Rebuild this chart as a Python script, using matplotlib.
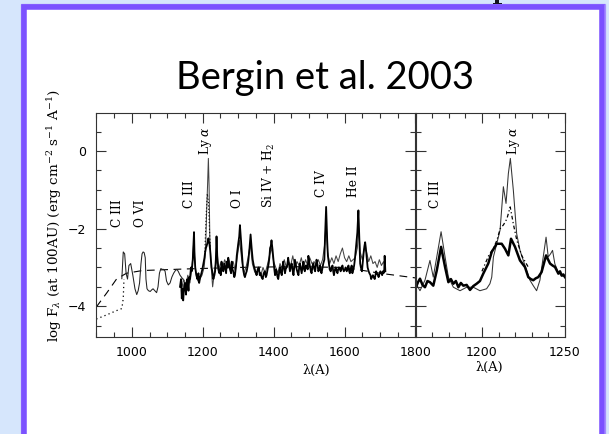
import matplotlib
matplotlib.use("Agg")
import matplotlib.pyplot as plt
from matplotlib.patches import Rectangle, Polygon
from matplotlib.ticker import MultipleLocator

plt.rcParams['mathtext.fontset'] = 'dejavuserif'

# ---------------- data ----------------
# model continuum (dashed)
model_lam = [900, 930, 957, 985, 1030, 1150, 1300, 1450, 1600, 1700, 1800]
model_flux = [-4.02, -3.65, -3.30, -3.15, -3.08, -3.04, -3.00, -2.98, -3.00, -3.15, -3.27]

# extrapolated FUV (dotted)
extrap_lam = [900, 930, 955, 972, 976, 978]
extrap_flux = [-4.33, -4.22, -4.12, -4.06, -3.80, -3.30]

# FUSE spectrum (thin)
fuse_lam = [972, 976, 980, 984, 988, 992, 997, 1003, 1009, 1014, 1018, 1022, 1026, 1029,
            1032, 1035, 1038, 1040, 1043, 1047, 1052, 1056, 1060, 1065, 1070, 1074, 1078,
            1082, 1086, 1090, 1094, 1098, 1103, 1108, 1113, 1118, 1123, 1127, 1131, 1136,
            1140, 1144, 1148]
fuse_flux = [-3.29, -2.60, -2.65, -3.15, -3.30, -2.95, -2.90, -3.20, -3.55, -3.70, -3.60,
             -3.40, -2.90, -2.65, -2.60, -2.62, -2.75, -3.30, -3.55, -3.60, -3.62, -3.58,
             -3.55, -3.60, -3.65, -3.50, -3.15, -3.03, -3.05, -3.05, -3.10, -3.35, -3.45,
             -3.40, -3.25, -3.15, -3.08, -3.05, -3.10, -3.20, -3.25, -3.30, -3.35]

# HST spectrum, star 1 (thick black): (wavelength, log flux)
hst1_points = [
    (1136, -3.50), (1139, -3.30), (1141, -3.80), (1143, -3.55), (1145, -3.85), (1148, -3.45),
    (1150, -3.40), (1153, -3.70), (1155, -3.35), (1157, -3.30), (1160, -3.60), (1162, -3.25),
    (1164, -3.30), (1167, -3.00), (1169, -3.10), (1172, -2.80), (1174, -2.40), (1175.5, -2.09),
    (1177, -2.70), (1179, -3.00), (1182, -3.20), (1185, -3.30), (1188, -3.15), (1190, -3.40),
    (1193, -3.25), (1195, -3.20), (1199, -3.05), (1202, -2.90), (1205, -2.75), (1207, -2.60),
    (1209, -2.50), (1211, -2.45), (1214, -2.35), (1216, -2.25), (1219, -2.40), (1221, -2.55),
    (1223, -2.80), (1225, -3.00), (1228, -3.15), (1230, -3.30), (1233, -3.20), (1235, -3.10),
    (1237, -2.80), (1239, -2.20), (1241, -2.70), (1244, -3.00), (1247, -3.15), (1249, -3.05),
    (1251, -3.20), (1253, -2.85), (1256, -3.05), (1258, -3.10), (1261, -2.90), (1263, -3.00),
    (1266, -3.15), (1268, -2.85), (1270, -3.00), (1272, -2.75), (1275, -2.95), (1277, -3.05),
    (1280, -3.15), (1282, -2.85), (1284, -3.05), (1286, -3.10), (1289, -3.25), (1291, -3.20),
    (1294, -2.95), (1296, -2.70), (1298, -2.55), (1300, -2.40), (1303, -2.20), (1305, -1.91),
    (1308, -2.30), (1310, -2.60), (1313, -2.95), (1315, -3.10), (1317, -3.20), (1319, -3.25),
    (1322, -3.15), (1324, -3.10), (1327, -2.95), (1329, -2.80), (1332, -2.50), (1335, -2.15),
    (1338, -2.50), (1341, -2.80), (1344, -2.95), (1347, -3.05), (1350, -3.15), (1352, -3.20),
    (1355, -3.05), (1358, -3.00), (1361, -3.20), (1363, -3.15), (1366, -3.25), (1369, -3.30),
    (1372, -3.15), (1375, -3.10), (1378, -3.25), (1380, -3.20), (1383, -3.05), (1386, -2.90),
    (1388, -2.75), (1390, -2.50), (1392, -2.45), (1394, -2.30), (1397, -2.55), (1399, -2.75),
    (1402, -3.05), (1404, -3.20), (1407, -3.05), (1409, -3.15), (1411, -3.25), (1413, -3.30),
    (1416, -3.10), (1418, -3.00), (1421, -3.15), (1423, -3.20), (1425, -3.00), (1427, -2.85),
    (1430, -3.05), (1432, -3.15), (1435, -3.00), (1437, -3.00), (1439, -2.90), (1441, -2.75),
    (1444, -2.95), (1446, -3.10), (1449, -2.95), (1451, -2.90), (1454, -3.10), (1456, -3.20),
    (1458, -3.00), (1460, -2.80), (1463, -2.95), (1465, -3.05), (1468, -3.15), (1470, -3.20),
    (1472, -3.00), (1474, -2.90), (1477, -3.05), (1479, -3.15), (1482, -2.95), (1484, -2.85),
    (1486, -3.05), (1488, -3.10), (1491, -2.95), (1493, -2.95), (1496, -3.05), (1498, -2.70),
    (1501, -2.90), (1503, -3.00), (1505, -3.10), (1507, -3.15), (1510, -2.95), (1512, -2.90),
    (1515, -3.05), (1517, -3.10), (1519, -2.95), (1521, -2.80), (1524, -2.95), (1526, -3.10),
    (1529, -3.05), (1531, -2.95), (1533, -3.10), (1535, -3.15), (1538, -3.00), (1540, -2.90),
    (1543, -2.80), (1545, -2.20), (1548, -1.44), (1551, -2.30), (1553, -2.70), (1556, -2.90),
    (1558, -3.05), (1561, -3.10), (1563, -3.00), (1566, -2.95), (1568, -3.10), (1570, -3.20),
    (1573, -3.05), (1575, -3.00), (1578, -3.10), (1580, -3.15), (1582, -3.05), (1584, -3.00),
    (1587, -3.05), (1589, -3.10), (1592, -3.00), (1594, -2.95), (1596, -3.05), (1598, -3.10),
    (1601, -3.05), (1603, -3.00), (1606, -3.10), (1608, -3.05), (1611, -2.95), (1613, -3.10),
    (1615, -3.15), (1617, -3.05), (1620, -2.95), (1622, -3.15), (1625, -3.05), (1627, -2.95),
    (1629, -2.80), (1631, -2.60), (1634, -2.30), (1636, -2.10), (1639, -1.53), (1642, -2.40),
    (1644, -2.90), (1646, -3.00), (1649, -3.10), (1651, -2.90), (1654, -2.60), (1656, -2.45),
    (1658, -2.35), (1660, -2.50), (1663, -2.80), (1665, -3.00), (1668, -3.10), (1670, -3.15),
    (1673, -3.20), (1675, -3.30), (1677, -3.25), (1680, -3.20), (1682, -3.25), (1685, -3.30),
    (1687, -3.20), (1689, -3.10), (1691, -3.15), (1694, -3.20), (1696, -3.25), (1699, -3.15),
    (1701, -3.10), (1704, -3.15), (1706, -3.20), (1708, -3.10), (1710, -3.15), (1712, -3.05),
    (1713, -2.70), (1715, -3.10),
]

# HST spectrum, star 2 (thin grey)
hst2_lam = [1140, 1146, 1152, 1158, 1164, 1170, 1175, 1180, 1186, 1192, 1198, 1204, 1208,
            1211, 1214, 1216, 1218, 1220, 1224, 1228, 1232, 1238, 1244, 1250, 1256, 1262,
            1268, 1274, 1280, 1286, 1292, 1298, 1304, 1310, 1316, 1322, 1328, 1334, 1340,
            1346, 1352, 1358, 1364, 1370, 1376, 1382, 1388, 1394, 1400, 1406, 1412, 1418,
            1424, 1430, 1436, 1442, 1448, 1454, 1460, 1466, 1472, 1478, 1484, 1490, 1496,
            1502, 1508, 1514, 1520, 1526, 1532, 1538, 1544, 1548, 1552, 1558, 1564, 1570,
            1576, 1582, 1588, 1594, 1600, 1606, 1612, 1618, 1624, 1630, 1636, 1640, 1644,
            1650, 1656, 1662, 1668, 1674, 1680, 1686, 1692, 1698, 1704, 1710, 1715]
hst2_flux = [-3.60, -3.30, -3.50, -3.20, -3.40, -3.00, -2.30, -3.10, -3.35, -3.30, -3.20,
             -3.00, -2.60, -1.60, -0.80, -0.19, -0.90, -2.20, -3.00, -3.50, -3.20, -2.80,
             -3.10, -2.90, -3.00, -2.80, -2.95, -2.80, -3.00, -2.85, -3.10, -2.70, -2.30,
             -2.80, -3.15, -3.00, -2.75, -2.40, -2.90, -3.10, -3.20, -3.05, -3.20, -3.00,
             -3.15, -2.95, -2.70, -2.50, -2.85, -3.00, -3.15, -2.90, -3.05, -2.80, -3.00,
             -2.85, -2.95, -2.70, -3.00, -2.85, -2.95, -2.75, -3.00, -2.80, -2.95, -2.75,
             -2.90, -2.85, -2.95, -2.80, -2.95, -2.80, -2.40, -1.80, -2.60, -2.90, -2.75,
             -2.90, -2.70, -2.85, -2.65, -2.50, -2.75, -2.85, -2.70, -2.85, -2.80, -2.75,
             -2.50, -2.00, -2.60, -2.80, -2.50, -2.60, -2.85, -2.70, -2.90, -2.85, -3.00,
             -2.80, -2.95, -2.85, -3.00]

# third star near Ly alpha (dotted)
hst3_lam = [1206, 1210, 1213, 1216, 1219, 1222]
hst3_flux = [-2.60, -1.60, -1.10, -1.30, -2.00, -2.60]

# right panel (zoom on 1160-1250 A)
zoom_thin_lam = [1160.3, 1162.7, 1165.7, 1168.7, 1170.7, 1172.8, 1175.4, 1177.8, 1179.8,
                 1182.8, 1186.8, 1190.8, 1194.8, 1198.8, 1202.8, 1204.8, 1205.9, 1206.9,
                 1208.9, 1210.9, 1212.9, 1214.5, 1215.9, 1217.1, 1218.9, 1220.9, 1222.9,
                 1224.9, 1226.9, 1228.9, 1230.9, 1232.9, 1234.9, 1236.9, 1238.6, 1239.9,
                 1241.3, 1242.5, 1243.9, 1245.9, 1247.9, 1250.0]
zoom_thin_flux = [-3.42, -3.60, -3.33, -2.82, -3.25, -2.73, -2.08, -2.73, -3.25, -3.51,
                  -3.60, -3.51, -3.51, -3.60, -3.55, -3.42, -3.25, -2.73, -2.39, -2.04,
                  -0.92, -1.35, -0.58, -0.19, -1.01, -2.13, -2.56, -2.82, -3.08, -3.33,
                  -3.47, -3.60, -3.33, -2.73, -2.22, -2.73, -2.65, -2.56, -2.91, -3.12,
                  -3.21, -3.25]

zoom_dot_lam = [1200, 1204, 1207, 1209, 1211, 1213, 1215, 1217, 1219, 1221, 1224, 1228]
zoom_dot_flux = [-3.10, -2.70, -2.50, -2.30, -2.00, -1.90, -1.75, -1.44, -1.90, -2.30,
                 -2.70, -3.00]

zoom_thick_lam = [1160.3, 1161.5, 1162.7, 1164.2, 1165.7, 1167.2, 1168.7, 1170.7, 1172.8,
                  1175.4, 1177.8, 1179.8, 1181.3, 1182.8, 1184.3, 1185.8, 1187.3, 1188.8,
                  1190.8, 1192.8, 1194.8, 1196.8, 1198.8, 1200.8, 1203.8, 1205.9, 1208.9,
                  1211.9, 1213.9, 1215.9, 1217.5, 1219.9, 1222.9, 1225.9, 1227.9, 1229.4,
                  1230.9, 1232.4, 1233.9, 1235.9, 1238.6, 1241.0, 1242.5, 1244.0, 1246.0,
                  1247.0, 1248.0, 1249.0, 1250.0]
zoom_thick_flux = [-3.51, -3.38, -3.29, -3.45, -3.51, -3.35, -3.38, -3.47, -3.08, -2.47,
                   -2.99, -3.38, -3.30, -3.42, -3.35, -3.51, -3.40, -3.47, -3.45, -3.58,
                   -3.48, -3.42, -3.35, -3.16, -2.90, -2.60, -2.39, -2.39, -2.52, -2.69,
                   -2.26, -2.47, -2.82, -2.99, -3.25, -3.30, -3.33, -3.28, -3.25, -3.12,
                   -2.69, -2.90, -2.95, -2.99, -3.16, -3.10, -3.21, -3.18, -3.25]

left_labels = ["C III", "O VI", "C III", r"Ly $\alpha$", "O I", r"Si IV + H$_2$", "C IV", "He II"]
left_label_lam = [961, 1026, 1164, 1209, 1297, 1387, 1536, 1626]
left_label_base = [-1.97, -1.97, -1.47, -0.10, -1.47, -1.47, -1.19, -1.19]
right_labels = ["C III", r"Ly $\alpha$"]
right_label_lam = [1172, 1219]
right_label_base = [-1.47, -0.10]

hst1_lam = [p[0] for p in hst1_points]
hst1_flux = [p[1] for p in hst1_points]

# ---------------- figure ----------------
W, H = 609, 434
fig = plt.figure(figsize=(W / 100, H / 100), dpi=100, facecolor="#d6e6fc")


def fx(px):
    return px / W


def fy(py):
    return 1 - py / H


# slide frame
fig.patches.append(Rectangle((fx(20.5), fy(450)), fx(604.5) - fx(20.5), fy(4.5) - fy(450),
                             transform=fig.transFigure, facecolor="white",
                             edgecolor="#a48cff", linewidth=0.9, zorder=-10))
fig.patches.append(Rectangle((fx(23.5), fy(450)), fx(601.8) - fx(23.5), fy(7.3) - fy(450),
                             transform=fig.transFigure, facecolor="white",
                             edgecolor="#7b52ff", linewidth=4.0, zorder=-9))

# cut-off fragment of the slide heading above (descender of a letter)
frag = [(495.5, 0), (498.5, 0), (498.5, 2.6), (501.5, 2.6), (501.5, 4), (493, 4),
        (493, 2.6), (495.5, 2.6)]
fig.patches.append(Polygon([(fx(a), fy(b)) for a, b in frag], closed=True,
                           transform=fig.transFigure, facecolor="#141420",
                           edgecolor="none", zorder=5))

fig.text(fx(325), fy(88.5), "Bergin et al. 2003", fontsize=27.5, family="Lato",
         ha="center", va="baseline", color="black")

ylim = (-4.78, 0.98)
ax1 = fig.add_axes([fx(96.3), fy(336.5), fx(415.5) - fx(96.3), fy(113) - fy(336.5)])
ax2 = fig.add_axes([fx(415.5), fy(336.5), fx(565) - fx(415.5), fy(113) - fy(336.5)])

ax1.plot(model_lam, model_flux, color="black", lw=0.8, dashes=(7, 5))
ax1.plot(extrap_lam, extrap_flux, color="black", lw=0.9, linestyle=(0, (1, 2.5)))
ax1.plot(fuse_lam, fuse_flux, color="#222222", lw=0.75)
ax1.plot(hst2_lam, hst2_flux, color="#444444", lw=0.75)
ax1.plot(hst3_lam, hst3_flux, color="black", lw=0.8, linestyle=(0, (1, 2)))
ax1.plot(hst1_lam, hst1_flux, color="black", lw=1.3)

ax2.plot(zoom_thin_lam, zoom_thin_flux, color="#333333", lw=0.75)
ax2.plot(zoom_dot_lam, zoom_dot_flux, color="black", lw=0.9, linestyle=(0, (3, 2, 1, 2)))
ax2.plot(zoom_thick_lam, zoom_thick_flux, color="black", lw=1.8)

for t, x, y in zip(left_labels, left_label_lam, left_label_base):
    ax1.text(x, y, t, rotation=90, ha="center", va="bottom", fontsize=8.8,
             family="DejaVu Serif")
for t, x, y in zip(right_labels, right_label_lam, right_label_base):
    ax2.text(x, y, t, rotation=90, ha="center", va="bottom", fontsize=8.8,
             family="DejaVu Serif")

ax1.set_xlim(900, 1800)
ax2.set_xlim(1160, 1250)
for ax in (ax1, ax2):
    ax.set_ylim(*ylim)
    ax.yaxis.set_major_locator(MultipleLocator(2))
    ax.yaxis.set_minor_locator(MultipleLocator(0.5))
    ax.tick_params(which="both", direction="in", top=True, right=True, color="#333333",
                   width=0.8, labelsize=9, labelfontfamily="DejaVu Sans")
    ax.tick_params(which="major", length=7.2)
    ax.tick_params(which="minor", length=3.6)
    ax.tick_params(axis="x", pad=6.5)
    ax.tick_params(axis="y", pad=7)
    for s in ax.spines.values():
        s.set_color("#333333")
        s.set_linewidth(0.8)
ax1.xaxis.set_major_locator(MultipleLocator(200))
ax1.xaxis.set_minor_locator(MultipleLocator(50))
ax2.xaxis.set_major_locator(MultipleLocator(50))
ax2.xaxis.set_minor_locator(MultipleLocator(10))
ax2.tick_params(axis="y", labelleft=False)

fig.text(fx(55), fy(216), r"log F$_\lambda$ (at 100AU) (erg cm$^{-2}$ s$^{-1}$ A$^{-1}$)",
         rotation=90, ha="center", va="center", fontsize=9.7, family="DejaVu Serif")
fig.text(fx(316), fy(370), "λ(A)", ha="center", va="center", fontsize=9.3,
         family="DejaVu Serif")
fig.text(fx(489.5), fy(367), "λ(A)", ha="center", va="center", fontsize=9.3,
         family="DejaVu Serif")

fig.savefig("out.png", dpi=100, facecolor=fig.get_facecolor())
